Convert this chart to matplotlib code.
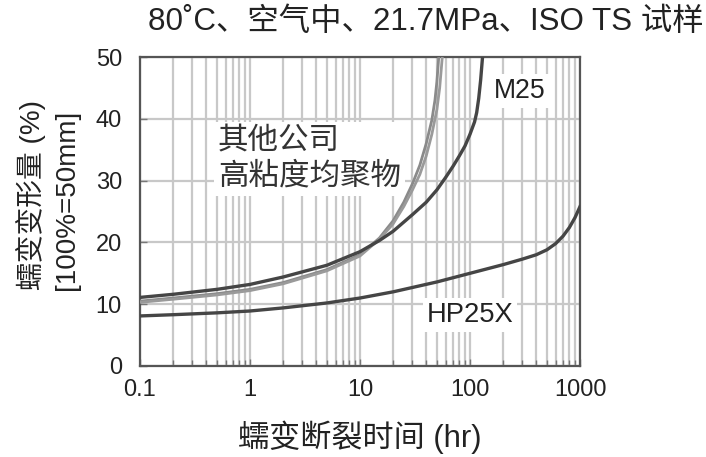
import matplotlib
matplotlib.use("Agg")
import matplotlib.pyplot as plt
from matplotlib.ticker import LogLocator, FixedLocator, NullFormatter

FAM = ['Liberation Sans', 'Noto Sans CJK SC']
plt.rcParams['font.family'] = FAM

# ---- data ----
hp25x_t = [0.1, 0.2, 0.5, 1, 2, 5, 10, 20, 50, 100, 200, 300, 400, 500, 600, 700, 800, 900, 1000]
hp25x_y = [8.1, 8.3, 8.6, 8.9, 9.4, 10.2, 11.0, 12.0, 13.6, 15.0, 16.4, 17.3, 18.0, 18.8, 19.8, 21.0, 22.4, 24.0, 25.8]

m25_t = [0.1, 0.2, 0.5, 1, 2, 5, 10, 15, 20, 30, 40, 50, 60, 70, 80, 90, 100, 110, 115, 120, 125, 130]
m25_y = [11.1, 11.6, 12.4, 13.2, 14.4, 16.3, 18.5, 20.3, 21.8, 24.5, 26.5, 28.5, 30.5, 32.3, 34.0, 35.6, 37.5, 39.5, 41.0, 43.3, 46.3, 50.0]

otherA_t = [0.1, 0.2, 0.5, 1, 2, 5, 10, 15, 20, 25, 30, 35, 40, 45, 48, 50, 52]
otherA_y = [10.5, 11.0, 11.7, 12.4, 13.5, 15.6, 18.0, 20.7, 23.5, 26.5, 29.5, 32.5, 36.0, 39.8, 43.0, 46.0, 50.0]

otherB_t = [0.1, 0.2, 0.5, 1, 2, 5, 10, 15, 20, 25, 30, 35, 40, 45, 50, 53, 56]
otherB_y = [10.3, 10.8, 11.5, 12.2, 13.3, 15.4, 17.8, 20.5, 23.0, 25.8, 28.5, 31.0, 34.0, 37.5, 41.5, 45.0, 50.0]

x_ticks = [0.1, 1, 10, 100, 1000]
x_tick_labels = ['0.1', '1', '10', '100', '1000']
y_ticks = [0, 10, 20, 30, 40, 50]

title = '80˚C、空气中、21.7MPa、ISO TS 试样'
xlabel = '蠕变断裂时间 (hr)'
ylabel1 = '蠕变变形量 (%)'
ylabel2 = '[100%=50mm]'
label_other = '其他公司\n高粘度均聚物'
label_m25 = 'M25'
label_hp = 'HP25X'

# ---- figure ----
fig = plt.figure(figsize=(7.06, 4.57), dpi=100)
ax = fig.add_axes([140/706, 1-366/457, 440/706, 309/457])

ax.set_xscale('log')
ax.set_xlim(0.1, 1000)
ax.set_ylim(0, 50)

grid_c = '#c8c8c8'
ax.xaxis.set_major_locator(FixedLocator(x_ticks))
ax.xaxis.set_minor_locator(LogLocator(base=10, subs=range(2, 10)))
ax.xaxis.set_minor_formatter(NullFormatter())
ax.set_xticks(x_ticks)
ax.set_xticklabels(x_tick_labels)
ax.set_yticks(y_ticks)
ax.grid(True, which='major', axis='both', color=grid_c, lw=1.6, zorder=0)
ax.grid(True, which='minor', axis='x', color=grid_c, lw=1.6, zorder=0)
ax.set_axisbelow(True)

ax.tick_params(axis='both', which='both', direction='in', color='#777777',
               labelsize=17, labelcolor='#222222')
ax.tick_params(axis='both', which='major', length=5, width=1)
ax.tick_params(axis='x', which='minor', length=4, width=1)
ax.tick_params(axis='y', pad=13)
ax.tick_params(axis='x', pad=9)

for s in ax.spines.values():
    s.set_color('#555555')
    s.set_linewidth(1.6)

ax.plot(otherA_t, otherA_y, color='#8a8a8a', lw=2.0, zorder=3)
ax.plot(otherB_t, otherB_y, color='#9a9a9a', lw=2.0, zorder=3)
ax.plot(m25_t, m25_y, color='#454545', lw=2.4, zorder=4)
ax.plot(hp25x_t, hp25x_y, color='#454545', lw=2.4, zorder=4)

box = dict(facecolor='white', edgecolor='none', pad=3)
ax.text(0.177, 0.670, label_other, transform=ax.transAxes, ha='left', va='center',
        fontsize=22, color='#333333', linespacing=1.2, bbox=box, zorder=2)
ax.text(0.862, 0.89, label_m25, transform=ax.transAxes, ha='center', va='center',
        fontsize=19.2, color='#222222', bbox=box, zorder=2)
ax.text(0.750, 0.165, label_hp, transform=ax.transAxes, ha='center', va='center',
        fontsize=19.7, color='#222222', bbox=box, zorder=2)

fig.text(426/706, 1-22/457, title, ha='center', va='center', fontsize=22.6, color='#222222')
fig.text(360/706, 1-437/457, xlabel, ha='center', va='center', fontsize=22.4, color='#222222')
fig.text(31/706, 1-195/457, ylabel1, ha='center', va='center', rotation=90, fontsize=20, color='#222222')
fig.text(67/706, 1-200/457, ylabel2, ha='center', va='center', rotation=90, fontsize=20, color='#222222')

fig.savefig('out.png', dpi=100, facecolor='white')
